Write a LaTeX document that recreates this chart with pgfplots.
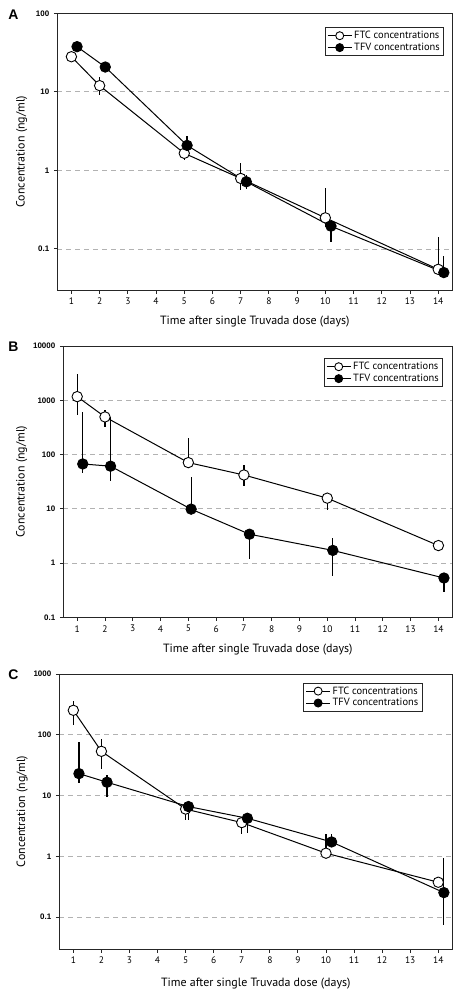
\documentclass[border=0pt]{standalone}
\usepackage{fontspec}
\setmainfont{PT Sans}
\newfontfamily\tickfont{Liberation Sans}
\usepackage{pgfplots}
\pgfplotsset{compat=1.18}
\usepackage{pgfplotstable}

% x y ep em
\pgfplotstableread{
x y ep em
1 28 0 0
2 12.0 3.3 2.9
5 1.65 0 0.3
7 0.79 0.44 0.22
10 0.249 0.35 0.06
14 0.055 0.085 0
}\AFTC
\pgfplotstableread{
x y ep em
1.2 37.6 0 0
2.2 20.7 0 0
5.1 2.08 0.66 0
7.2 0.716 0.16 0.13
10.2 0.195 0.03 0.072
14.2 0.050 0.031 0
}\ATFV
\pgfplotstableread{
x y ep em
1 1167 1843 630
2 493 171 166
5 71 134 0
7 42 21.6 16.2
10 15.7 0 6.1
14 2.1 0 0
}\BFTC
\pgfplotstableread{
x y ep em
1.2 67 543 20.4
2.2 61 426 28.3
5.1 9.86 29.5 0
7.2 3.4 0 2.21
10.2 1.71 1.17 1.125
14.2 0.53 0 0.242
}\BTFV
\pgfplotstableread{
x y ep em
1 253 107 108
2 53.5 32 26.5
5 6.0 0 2.0
7 3.6 0 1.29
10 1.13 1.24 0
14 0.376 0 0
}\CFTC
\pgfplotstableread{
x y ep em
1.2 23 54 7
2.2 16.6 5.3 7.2
5.1 6.6 0 2.66
7.2 4.24 0 1.77
10.2 1.73 0.61 0
14.2 0.254 0.676 0.179
}\CTFV

\pgfplotsset{
  mypanel/.style={
    scale only axis,
    anchor=north west,
    xmin=0.5, xmax=14.5,
    xtick={1,...,14},
    xticklabels={1,2,3,4,5,6,7,8,9,10,11,12,13,14},
    yminorticks=false,
    tick align=outside,
    major tick length=3.5bp,
    xtick pos=bottom, ytick pos=left,
    axis line style={line width=1bp, black!85},
    every tick/.style={line width=0.9bp, black!85},
    ymajorgrids,
    major grid style={dashed, dash pattern=on 5bp off 4bp, gray!60, line width=0.8bp},
    xticklabel style={font=\fontsize{9.5}{10}\selectfont, yshift=-1bp},
    yticklabel style={font=\tickfont\bfseries\fontsize{8}{9}\selectfont, xshift=-1bp},
    xlabel={Time after single Truvada dose (days)},
    ylabel={Concentration (ng/ml)},
    every axis x label/.style={at={(axis description cs:0.5,0)}, anchor=center, yshift=-32bp, font=\fontsize{12}{13}\selectfont},
    legend cell align=left,
    legend style={font=\fontsize{10.5}{12}\selectfont, draw=black!85, line width=0.9bp, inner xsep=2bp, inner ysep=1.5bp, row sep=-1bp, anchor=north east},
    legend image code/.code={
      \draw[line width=1bp] (0bp,0bp) -- (24bp,0bp);
      \draw[mark size=4bp, line width=0.9bp] plot coordinates {(12bp,0bp)};
    },
  },
  myerr/.style={error bars/.cd, y dir=both, y explicit, error mark=none,
    error bar style={line width=1.2bp, black}},
  ftc/.style={black, line width=1bp, mark=*, mark size=5.2bp, mark options={fill=white, draw=black, line width=0.9bp}, myerr},
  tfv/.style={black, line width=1bp, mark=*, mark size=5.2bp, mark options={fill=black, draw=black, line width=0.9bp}, myerr},
}

\begin{document}
\begin{tikzpicture}
\useasboundingbox (0,0) rectangle (462bp,-1000bp);

% Panel A
\node[font=\tickfont\bfseries\fontsize{14}{14}\selectfont] at (13.5bp,-15bp) {A};
\begin{semilogyaxis}[mypanel,
  at={(57.3bp,-13.3bp)}, width=395bp, height=276.7bp,
  ymin=0.03, ymax=100,
  ytick={0.1,1,10,100}, yticklabels={0.1,1,10,100},
  every axis y label/.style={at={(axis description cs:0,0.5)}, anchor=center, rotate=90, yshift=35.6bp, font=\fontsize{12}{13}\selectfont},
  legend style={at={(axis description cs:1,1)}, xshift=-8bp, yshift=-14bp},
]
\addplot[ftc] table[x=x, y=y, y error plus=ep, y error minus=em] {\AFTC};
\addlegendentry{FTC concentrations}
\addplot[tfv] table[x=x, y=y, y error plus=ep, y error minus=em] {\ATFV};
\addlegendentry{TFV concentrations}
\end{semilogyaxis}

% Panel B
\node[font=\tickfont\bfseries\fontsize{14}{14}\selectfont] at (13.5bp,-346.5bp) {B};
\begin{semilogyaxis}[mypanel,
  at={(63.3bp,-346bp)}, width=389bp, height=271.3bp,
  ymin=0.1, ymax=10000,
  ytick={0.1,1,10,100,1000,10000}, yticklabels={0.1,1,10,100,1000,10000},
  every axis y label/.style={at={(axis description cs:0,0.5)}, anchor=center, rotate=90, yshift=41.6bp, font=\fontsize{12}{13}\selectfont},
  legend style={at={(axis description cs:1,1)}, xshift=-9bp, yshift=-12.3bp},
]
\addplot[ftc] table[x=x, y=y, y error plus=ep, y error minus=em] {\BFTC};
\addlegendentry{FTC concentrations}
\addplot[tfv] table[x=x, y=y, y error plus=ep, y error minus=em] {\BTFV};
\addlegendentry{TFV concentrations}
\end{semilogyaxis}

% Panel C
\node[font=\tickfont\bfseries\fontsize{14}{14}\selectfont] at (13.5bp,-675bp) {C};
\begin{semilogyaxis}[mypanel,
  at={(59.3bp,-674bp)}, width=393bp, height=275bp,
  ymin=0.03, ymax=1000,
  ytick={0.1,1,10,100,1000}, yticklabels={0.1,1,10,100,1000},
  every axis y label/.style={at={(axis description cs:0,0.5)}, anchor=center, rotate=90, yshift=37bp, font=\fontsize{12}{13}\selectfont},
  every axis x label/.style={at={(axis description cs:0.5,0)}, anchor=center, yshift=-35bp, font=\fontsize{12}{13}\selectfont},
  legend style={at={(axis description cs:1,1)}, xshift=-29.6bp, yshift=-8.7bp},
]
\addplot[ftc] table[x=x, y=y, y error plus=ep, y error minus=em] {\CFTC};
\addlegendentry{FTC concentrations}
\addplot[tfv] table[x=x, y=y, y error plus=ep, y error minus=em] {\CTFV};
\addlegendentry{TFV concentrations}
\end{semilogyaxis}
\end{tikzpicture}
\end{document}
